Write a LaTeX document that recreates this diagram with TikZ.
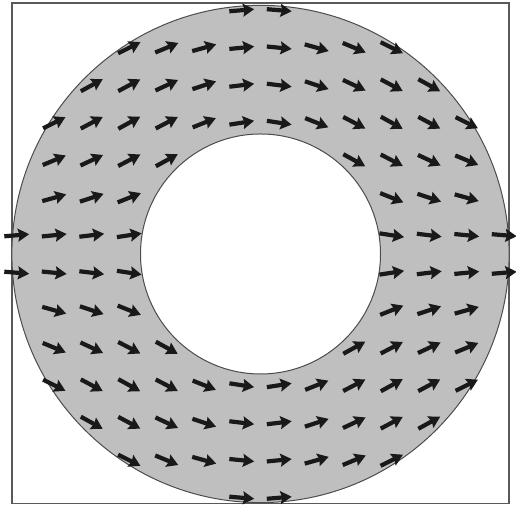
\documentclass[tikz,border=0pt]{standalone}
\usetikzlibrary{arrows.meta}

\tikzset{
  vec/.style={line width=2.1pt, black!90, -{Stealth[length=5.6pt,width=6.4pt,inset=0.8pt]}},
  ring/.style={black!25},
  rim/.style={black!70, line width=0.5pt}
}

\begin{document}
\begin{tikzpicture}[x=18.75pt,y=18.75pt]
\useasboundingbox (-6.947,-6.773) rectangle (6.813,6.773);
\draw[black!65,line width=0.7pt] (-6.63,-6.65) rectangle (6.63,6.69);
\fill[ring,even odd rule] (0,0) circle (6.63) (0,0) circle (3.2);
\draw[rim] (0,0) circle (6.63) (0,0) circle (3.2);
% field vectors on the grid, only inside the ring
\foreach \i in {-6.5,-5.5,...,6.5}
  \foreach \j in {-6.5,-5.5,...,6.5}{
    \pgfmathsetmacro\rr{sqrt(\i*\i+\j*\j)}
    \pgfmathsetmacro\ang{atan(-1.1*\i*\j/(\rr*\rr))}
    \pgfmathtruncatemacro\inring{and(\rr>3.2,\rr<6.63)}
    \ifnum\inring=1
      \draw[vec] ({\i-0.333*cos(\ang)},{\j-0.333*sin(\ang)}) -- ({\i+0.333*cos(\ang)},{\j+0.333*sin(\ang)});
    \fi
  }
\end{tikzpicture}
\end{document}
